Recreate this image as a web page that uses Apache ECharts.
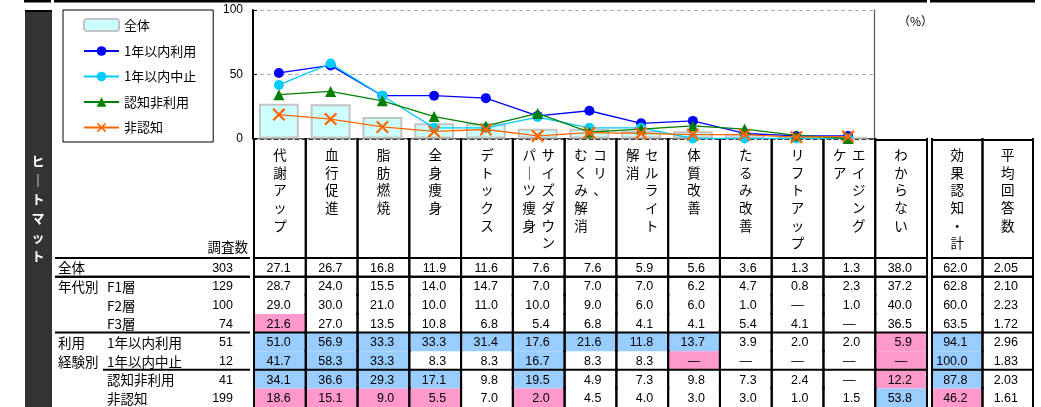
<!DOCTYPE html>
<html><head><meta charset="utf-8">
<script src="https://cdn.jsdelivr.net/npm/echarts@6/dist/echarts.min.js"></script>
<style>html,body{margin:0;padding:0;background:#fff}#c{width:1041px;height:407px}</style>
</head><body><div id="c"></div>
<script>
// ---------- data ----------
const columnHeaders = [
  ['代謝アップ'], ['血行促進'], ['脂肪燃焼'], ['全身痩身'], ['デトックス'],
  ['サイズダウン', 'パーツ痩身'], ['コリ、', 'むくみ解消'], ['セルライト', '解消'],
  ['体質改善'], ['たるみ改善'], ['リフトアップ'], ['エイジング', 'ケア'],
  ['わからない'], ['効果認知・計'], ['平均回答数']
];
const rowGroups = ['全体', '年代別', '', '', '利用', '経験別', '', ''];
const rowLabels = ['', 'F1層', 'F2層', 'F3層', '1年以内利用', '1年以内中止', '認知非利用', '非認知'];
const sampleSizes = [303, 129, 100, 74, 51, 12, 41, 199];
const yTicks = [0, 50, 100];

const allRespondents = [27.1, 26.7, 16.8, 11.9, 11.6, 7.6, 7.6, 5.9, 5.6, 3.6, 1.3, 1.3, 38.0, 62.0, 2.05];
const ageF1 = [28.7, 24.0, 15.5, 14.0, 14.7, 7.0, 7.0, 7.0, 6.2, 4.7, 0.8, 2.3, 37.2, 62.8, 2.10];
const ageF2 = [29.0, 30.0, 21.0, 10.0, 11.0, 10.0, 9.0, 6.0, 6.0, 1.0, null, 1.0, 40.0, 60.0, 2.23];
const ageF3 = [21.6, 27.0, 13.5, 10.8, 6.8, 5.4, 6.8, 4.1, 4.1, 5.4, 4.1, null, 36.5, 63.5, 1.72];
const usedWithinYear = [51.0, 56.9, 33.3, 33.3, 31.4, 17.6, 21.6, 11.8, 13.7, 3.9, 2.0, 2.0, 5.9, 94.1, 2.96];
const quitWithinYear = [41.7, 58.3, 33.3, 8.3, 8.3, 16.7, 8.3, 8.3, null, null, null, null, null, 100.0, 1.83];
const awareNonUser = [34.1, 36.6, 29.3, 17.1, 9.8, 19.5, 4.9, 7.3, 9.8, 7.3, 2.4, null, 12.2, 87.8, 2.03];
const unaware = [18.6, 15.1, 9.0, 5.5, 7.0, 2.0, 4.5, 4.0, 3.0, 3.0, 1.0, 1.5, 53.8, 46.2, 1.61];

// heat marks: H = notably high, L = notably low
const marksAll = ['', '', '', '', '', '', '', '', '', '', '', '', '', '', ''];
const marksF1 = ['', '', '', '', '', '', '', '', '', '', '', '', '', '', ''];
const marksF2 = ['', '', '', '', '', '', '', '', '', '', '', '', '', '', ''];
const marksF3 = ['L', '', '', '', '', '', '', '', '', '', '', '', '', '', ''];
const marksUsed = ['H', 'H', 'H', 'H', 'H', 'H', 'H', 'H', 'H', '', '', '', 'L', 'H', ''];
const marksQuit = ['H', 'H', 'H', '', '', 'H', '', '', 'L', '', '', '', 'L', 'H', ''];
const marksAware = ['H', 'H', 'H', 'H', '', 'H', '', '', '', '', '', '', 'L', 'H', ''];
const marksUnaware = ['L', 'L', 'L', 'L', '', 'L', '', '', '', '', '', '', 'H', 'L', ''];

const tableRows = [allRespondents, ageF1, ageF2, ageF3, usedWithinYear, quitWithinYear, awareNonUser, unaware];
const tableMarks = [marksAll, marksF1, marksF2, marksF3, marksUsed, marksQuit, marksAware, marksUnaware];
const lineSeriesRows = [4, 5, 6, 7];
const sectionStarts = [0, 1, 4];      // full-width rule above these rows
const subSectionStarts = [6];          // rule above these rows (indented in label area)

// ---------- style ----------
const NUM_FONT = "'Liberation Sans', Arial, sans-serif";
const JP_FONT = "'Noto Sans CJK JP', sans-serif";
const HIGH = '#99CCFF', LOW = '#FF99CC';
const lineColors = ['#0000FF', '#00CCFF', '#008000', '#FF6600'];
const XPATH = 'path://M0,1.2 L1.2,0 L5,3.8 L8.8,0 L10,1.2 L6.2,5 L10,8.8 L8.8,10 L5,6.2 L1.2,10 L0,8.8 L3.8,5 Z';
const lineSymbols = ['circle', 'circle', 'triangle', XPATH];
const lineSymbolSizes = [10, 10, 11, 13];

const nChart = 12;
const chartCats = columnHeaders.slice(0, nChart).map(h => h.join(''));
const allCats = columnHeaders.map(h => h.join(''));
const rowCats = rowGroups.map((g, i) => g + rowLabels[i] + '#' + i);
const fmt = (v, col) => v === null ? '—' : (col === 14 ? v.toFixed(2) : v.toFixed(1));
const vert = s => s.replace(/ー/g, '｜').split('').join('\n');

const chart = echarts.init(document.getElementById('c'), null, {renderer: 'canvas'});

function vline(x, y1, y2, w) {
  return {type: 'line', z2: 10, shape: {x1: x, y1: y1, x2: x, y2: y2}, style: {stroke: '#000', lineWidth: w || 2}};
}
function hline(x1, x2, y, w) {
  return {type: 'line', z2: 10, shape: {x1: x1, y1: y, x2: x2, y2: y}, style: {stroke: '#000', lineWidth: w || 2}};
}

function headerItem(params, api) {
  const ci = api.value(0), gi = api.value(2);
  const p = api.coord([ci, 0]);
  const s = api.size([1, 1]);
  const x0 = p[0] - s[0] / 2, x1 = p[0] + s[0] / 2;
  const top = p[1] - s[1] / 2, bot = p[1] + s[1] / 2;
  const cols = columnHeaders[gi];
  const children = [];
  cols.forEach((t, k) => {
    const x = cols.length > 1 ? (k === 0 ? p[0] + 9.5 : p[0] - 9.5) : p[0];
    children.push({type: 'text', z2: 5, style: {text: vert(t), x: x, y: top + 7, align: 'center', verticalAlign: 'top',
      fontSize: 13.5, fontFamily: JP_FONT, lineHeight: 17.7, fill: '#000'}});
  });
  children.push(vline(x0, top - 1, bot));
  children.push(vline(x1, top - 1, bot));
  if (gi >= nChart) children.push(hline(x0 - 1, x1 + 1, top + 1));
  return {type: 'group', children: children};
}

function bodyItem(params, api) {
  const ci = api.value(0), r = api.value(1), gi = api.value(2);
  const p = api.coord([ci, r]);
  const s = api.size([1, 1]);
  const x0 = p[0] - s[0] / 2, x1 = p[0] + s[0] / 2;
  const y0 = p[1] - s[1] / 2, y1 = p[1] + s[1] / 2;
  const children = [];
  const m = tableMarks[r][gi];
  if (m) children.push({type: 'rect', z2: 0, shape: {x: x0, y: y0, width: s[0], height: s[1]}, style: {fill: m === 'H' ? HIGH : LOW}});
  const v = tableRows[r][gi];
  const txt = fmt(v, gi);
  children.push({type: 'text', z2: 5, style: {text: txt, x: v === null ? p[0] : x1 - 15, y: p[1] + 1,
    align: v === null ? 'center' : 'right', verticalAlign: 'middle', fontSize: 12.5, fontFamily: NUM_FONT, fill: '#000'}});
  children.push(vline(x0, y0 - 1, y1 + 1));
  children.push(vline(x1, y0 - 1, y1 + 1));
  if (sectionStarts.indexOf(r) >= 0 || subSectionStarts.indexOf(r) >= 0) children.push(hline(x0 - 1, x1 + 1, y0));
  if (r === 0) children.push(hline(x0 - 1, x1 + 1, y1));
  return {type: 'group', children: children};
}

function labelItem(params, api) {
  const r = api.value(1);
  const p = api.coord([0, r]);
  const s = api.size([1, 1]);
  const x0 = p[0] - s[0] / 2, x1 = p[0] + s[0] / 2;
  const y0 = p[1] - s[1] / 2, y1 = p[1] + s[1] / 2;
  const children = [];
  if (rowGroups[r]) children.push({type: 'text', style: {text: rowGroups[r], x: x0 + 3, y: p[1] + 1, align: 'left', verticalAlign: 'middle', fontSize: 13.5, fontFamily: JP_FONT, fill: '#000'}});
  if (rowLabels[r]) children.push({type: 'text', style: {text: rowLabels[r], x: x0 + 52, y: p[1] + 1, align: 'left', verticalAlign: 'middle', fontSize: 13.5, fontFamily: JP_FONT, fill: '#000'}});
  children.push({type: 'text', style: {text: String(sampleSizes[r]), x: x0 + 178, y: p[1] + 1, align: 'right', verticalAlign: 'middle', fontSize: 12.5, fontFamily: NUM_FONT, fill: '#000'}});
  if (sectionStarts.indexOf(r) >= 0) children.push(hline(x0, x1, y0));
  if (subSectionStarts.indexOf(r) >= 0) children.push(hline(x0 + 48, x1, y0));
  if (r === 0) children.push(hline(x0, x1, y1));
  return {type: 'group', children: children};
}

const headerDataA = [], headerDataB = [], bodyDataA = [], bodyDataB = [], labelData = [];
columnHeaders.forEach((h, gi) => {
  if (gi < 13) headerDataA.push([gi, 0, gi]); else headerDataB.push([gi - 13, 0, gi]);
});
tableRows.forEach((row, r) => {
  row.forEach((v, gi) => {
    if (gi < 13) bodyDataA.push([gi, r, gi]); else bodyDataB.push([gi - 13, r, gi]);
  });
  labelData.push([0, r]);
});

const hidden = {show: false};
const catX = (data) => ({type: 'category', data: data, show: false});
const catY = (data) => ({type: 'category', data: data, show: false, inverse: true});

const series = [{
  name: '全体', type: 'bar', xAxisIndex: 0, yAxisIndex: 0, barWidth: '77%',
  data: allRespondents.slice(0, nChart),
  itemStyle: {color: '#CCFFFF', borderColor: '#C4C4C4', borderWidth: 2}, z: 2
}];
lineSeriesRows.forEach((r, k) => {
  series.push({
    name: rowLabels[r], type: 'line', xAxisIndex: 0, yAxisIndex: 0, z: 3 + k,
    // "—" (no answer) cells sit on the zero line in the chart
    data: tableRows[r].slice(0, nChart).map(v => v === null ? 0 : v),
    symbol: lineSymbols[k], symbolSize: lineSymbolSizes[k],
    lineStyle: {color: lineColors[k], width: 1.3},
    itemStyle: {color: lineColors[k]}
  });
});
series.push({type: 'custom', xAxisIndex: 2, yAxisIndex: 2, renderItem: headerItem, data: headerDataA, silent: true});
series.push({type: 'custom', xAxisIndex: 3, yAxisIndex: 3, renderItem: headerItem, data: headerDataB, silent: true});
series.push({type: 'custom', xAxisIndex: 4, yAxisIndex: 4, renderItem: bodyItem, data: bodyDataA, silent: true});
series.push({type: 'custom', xAxisIndex: 5, yAxisIndex: 5, renderItem: bodyItem, data: bodyDataB, silent: true});
series.push({type: 'custom', xAxisIndex: 6, yAxisIndex: 6, renderItem: labelItem, data: labelData, silent: true});

const option = {
  animation: false,
  backgroundColor: '#fff',
  textStyle: {fontFamily: JP_FONT},
  legend: {
    data: ['全体'].concat(lineSeriesRows.map(r => rowLabels[r])),
    orient: 'vertical', left: 63, top: 10, padding: [8, 17, 8, 20], itemGap: 12.5,
    itemWidth: 35, itemHeight: 12, borderColor: '#000', borderWidth: 1,
    textStyle: {fontSize: 13, fontFamily: JP_FONT, color: '#000'}
  },
  grid: [
    {left: 253, top: 10, width: 621, height: 128.5},
    {left: 254, top: 139, width: 673, height: 119},
    {left: 932, top: 139, width: 101, height: 119},
    {left: 254, top: 258, width: 673, height: 152},
    {left: 932, top: 258, width: 101, height: 152},
    {left: 55, top: 258, width: 195, height: 152}
  ],
  xAxis: [
    {type: 'category', gridIndex: 0, data: chartCats, boundaryGap: true,
      axisLine: {lineStyle: {color: '#000', width: 1.5, type: [4, 3]}}, axisTick: hidden, axisLabel: hidden},
    {type: 'category', gridIndex: 0, position: 'top', offset: 1.5, data: chartCats,
      axisLine: {lineStyle: {color: '#555', width: 1}}, axisTick: hidden, axisLabel: hidden},
    Object.assign(catX(allCats.slice(0, 13)), {gridIndex: 1}),
    Object.assign(catX(allCats.slice(13)), {gridIndex: 2}),
    Object.assign(catX(allCats.slice(0, 13)), {gridIndex: 3}),
    Object.assign(catX(allCats.slice(13)), {gridIndex: 4}),
    Object.assign(catX(['label']), {gridIndex: 5})
  ],
  yAxis: [
    {type: 'value', gridIndex: 0, min: yTicks[0], max: yTicks[2], interval: yTicks[1] - yTicks[0],
      axisLine: {show: true, lineStyle: {color: '#000', width: 2}},
      axisTick: {show: true, inside: true, length: 4, lineStyle: {color: '#000'}},
      axisLabel: {color: '#000', fontSize: 12, fontFamily: NUM_FONT, margin: 10},
      splitLine: {show: true, lineStyle: {color: '#AAAAAA', type: [4, 3], width: 1}}},
    {type: 'value', gridIndex: 0, position: 'right', min: 0, max: 100,
      axisLine: {show: true, lineStyle: {color: '#555', width: 1.2}}, axisTick: hidden, axisLabel: hidden, splitLine: hidden},
    Object.assign(catY(['h']), {gridIndex: 1}),
    Object.assign(catY(['h']), {gridIndex: 2}),
    Object.assign(catY(rowCats), {gridIndex: 3}),
    Object.assign(catY(rowCats), {gridIndex: 4}),
    Object.assign(catY(rowCats), {gridIndex: 5})
  ],
  graphic: [
    {type: 'rect', left: 24, top: 0, shape: {width: 27, height: 2.5}, style: {fill: '#000'}},
    {type: 'rect', left: 54, top: 0, shape: {width: 873, height: 2.5}, style: {fill: '#000'}},
    {type: 'rect', left: 930, top: 0, shape: {width: 105, height: 2.5}, style: {fill: '#000'}},
    {type: 'rect', left: 25, top: 10, shape: {width: 27, height: 400}, style: {fill: '#333333'}},
    {type: 'rect', left: 25, top: 10, shape: {width: 27, height: 2}, style: {fill: '#000'}},
    {type: 'text', left: 31.5, top: 152, style: {text: vert('ヒートマット'), fontSize: 13, fontWeight: 'bold', fontFamily: JP_FONT, fill: '#fff', lineHeight: 19, align: 'center'}},
    {type: 'text', right: 793, top: 240, style: {text: '調査数', fontSize: 13.5, fontFamily: JP_FONT, fill: '#000'}},
    {type: 'text', left: 898, top: 15, style: {text: '（%）', fontSize: 12, fontFamily: JP_FONT, fill: '#000'}}
  ],
  series: series
};
chart.setOption(option);
</script>
</body></html>
